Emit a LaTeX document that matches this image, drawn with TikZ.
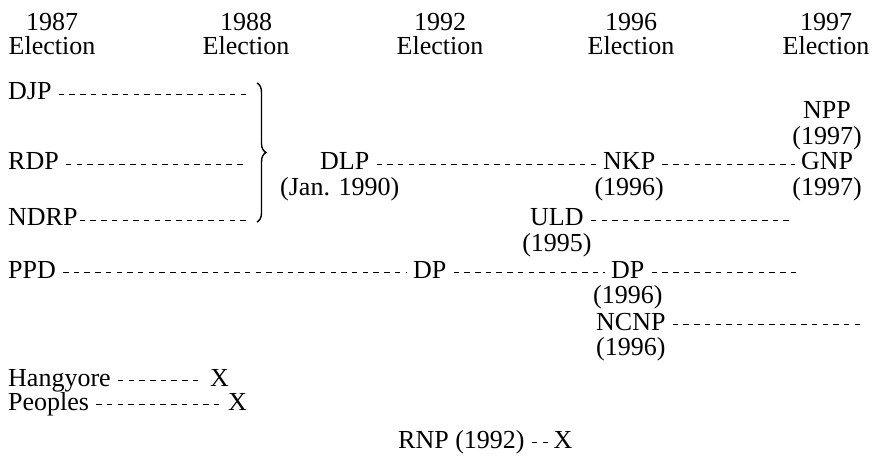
\documentclass[tikz,border=0pt]{standalone}
\usepackage{fontspec}
\setmainfont{Liberation Serif}
\usetikzlibrary{positioning, decorations.pathreplacing}

\begin{document}
\begin{tikzpicture}[
    x=1pt, y=-1pt,
    node distance=1pt,
    every node/.style={font=\fontsize{26}{24}\selectfont, inner sep=0pt},
    party/.style={text height=18pt, text depth=6.5pt},
    year/.style={align=center, anchor=north},
    link/.style={line width=1.4pt, dash pattern=on 5.5pt off 5.2pt, shorten <=7pt, shorten >=6pt},
    brace/.style={decorate, decoration={brace, amplitude=9pt}, line width=1.4pt}
]
\useasboundingbox (0,0) rectangle (873,457);

% election columns
\node (e87) [year] at (52,13) {1987\\Election};
\node (e88) [year] at (246,13) {1988\\Election};
\node (e92) [year] at (440,13) {1992\\Election};
\node (e96) [year] at (631,13) {1996\\Election};
\node (e97) [year] at (826,13) {1997\\Election};

% 1990 merger
\node (djp) [party, anchor=base west] at (8,100) {DJP};
\node (rdp) [party, anchor=base west] at (8,170) {RDP};
\node (ndrp) [party, anchor=base west] at (8,226) {NDRP};
\coordinate (brtop) at (257,83);
\coordinate (brbot) at (257,222);
\draw [brace] (brtop) -- (brbot);

\node (dlp) [party, anchor=base west] at (320,170) {DLP};
\node (dlpdate) [party, below=of dlp, xshift=-5pt] {(Jan. 1990)};
\node (nkp) [party, anchor=base west] at (603,170) {NKP};
\node (nkpdate) [party, below=of nkp] {(1996)};
\node (gnp) [party, anchor=base] at (827,170) {GNP};
\node (gnpdate) [party, below=of gnp] {(1997)};
\node (nppdate) [party, above=of gnp] {(1997)};
\node (npp) [party, above=of nppdate] {NPP};

\node (uld) [party, anchor=base west] at (530,226) {ULD};
\node (ulddate) [party, below=of uld] {(1995)};
\coordinate (uldend) at (795,0);

\node (ppd) [party, anchor=base west] at (8,278) {PPD};
\node (dp) [party, anchor=base west] at (413,278) {DP};
\node (dpnew) [party, anchor=base west] at (611,278) {DP};
\node (dpdate) [party, below=of dpnew] {(1996)};
\coordinate (dpend) at (802,0);

\node (ncnp) [party, anchor=base west] at (596,330) {NCNP};
\node (ncnpdate) [party, below=of ncnp] {(1996)};
\coordinate (ncnpend) at (871,0);

% parties that vanished
\node (hang) [party, anchor=base west] at (8,386) {Hangyore};
\node (hangx) [party, anchor=base west] at (210,386) {X};
\node (peop) [party, anchor=base west] at (8,410) {Peoples};
\node (peopx) [party, anchor=base west] at (228,410) {X};
\node (rnp) [party, anchor=base west] at (398,448) {RNP (1992)};
\node (rnpx) [party, anchor=base west] at (553.5,448) {X};

\draw [link, shorten >=10pt] (djp.east) -- (djp.east -| brtop);
\draw [link, shorten >=10pt] (rdp.east) -- (rdp.east -| brtop);
\draw [link, shorten <=2pt, shorten >=10pt] (ndrp.east) -- (ndrp.east -| brtop);
\draw [link] (dlp) -- (nkp);
\draw [link] (nkp) -- (gnp);
\draw [link] (uld.east) -- (uld.east -| uldend);
\draw [link] (ppd) -- (dp);
\draw [link] (dp) -- (dpnew);
\draw [link] (dpnew.east) -- (dpnew.east -| dpend);
\draw [link] (ncnp.east) -- (ncnp.east -| ncnpend);
\draw [link, shorten >=8pt] (hang) -- (hangx);
\draw [link, shorten >=8pt] (peop) -- (peopx);
\draw [link] (rnp) -- (rnpx);

\end{tikzpicture}
\end{document}
